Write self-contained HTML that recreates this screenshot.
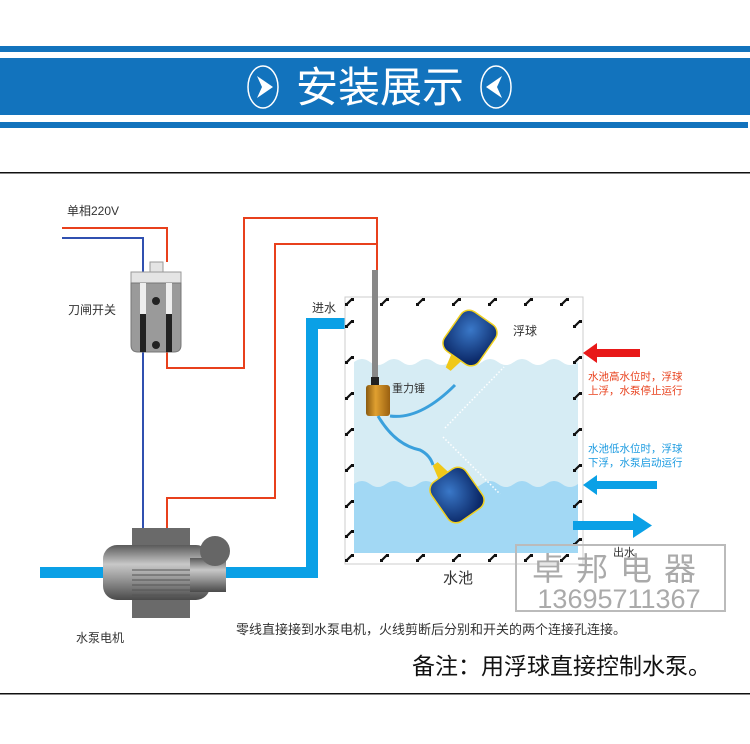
<!DOCTYPE html>
<html><head><meta charset="utf-8"><style>
body{margin:0;background:#fff;}
svg{display:block;font-family:"Liberation Sans","Noto Sans CJK SC",sans-serif;}
</style></head><body>
<svg width="750" height="744" viewBox="0 0 750 744" xmlns="http://www.w3.org/2000/svg">
<defs>
<linearGradient id="cyl" x1="0" y1="0" x2="0" y2="1"><stop offset="0" stop-color="#5a5a5a"/><stop offset="0.35" stop-color="#c8c8c8"/><stop offset="0.6" stop-color="#9a9a9a"/><stop offset="1" stop-color="#4a4a4a"/></linearGradient>
<linearGradient id="wt" x1="0" y1="0" x2="1" y2="0"><stop offset="0" stop-color="#8a5a10"/><stop offset="0.4" stop-color="#e0a030"/><stop offset="1" stop-color="#9a6010"/></linearGradient>
<radialGradient id="fb" cx="0.4" cy="0.35" r="0.7"><stop offset="0" stop-color="#3a78c8"/><stop offset="1" stop-color="#0c2a6a"/></radialGradient>
<g id="mk"><path d="M0 7 L6 1" stroke="#111" stroke-width="2.2"/><rect x="-1" y="5" width="3" height="3" fill="#111"/><rect x="5" y="0" width="3" height="3" fill="#111"/></g>
</defs>
<!-- header -->
<rect x="0" y="46" width="750" height="6" fill="#1273bd"/>
<rect x="0" y="58" width="750" height="57" fill="#1273bd"/>
<rect x="0" y="122" width="748" height="6" fill="#1273bd"/>
<ellipse cx="263" cy="87" rx="15" ry="21" fill="none" stroke="#fff" stroke-width="1.5"/>
<path d="M257 76 L273 87 L257 98 L262 87z" fill="#fff"/>
<ellipse cx="496" cy="87" rx="15" ry="21" fill="none" stroke="#fff" stroke-width="1.5"/>
<path d="M502 76 L486 87 L502 98 L497 87z" fill="#fff"/>
<text x="380" y="102" font-size="42" fill="#fff" text-anchor="middle">安装展示</text>
<rect x="0" y="172" width="750" height="1.5" fill="#111"/>
<rect x="0" y="693" width="750" height="1.5" fill="#111"/>

<!-- wires -->
<text x="67" y="215" font-size="12" fill="#333">单相220V</text>
<polyline points="62,228 167,228 167,262" fill="none" stroke="#e8401c" stroke-width="2"/>
<polyline points="62,238 143,238 143,528" fill="none" stroke="#3050b0" stroke-width="2"/>
<polyline points="167,352 167,368 244,368 244,218 377,218 377,270" fill="none" stroke="#e8401c" stroke-width="2"/>
<polyline points="167,528 167,498 275,498 275,244 377,244" fill="none" stroke="#e8401c" stroke-width="2"/>

<!-- switch -->
<rect x="150" y="262" width="13" height="10" fill="#e4e4e4" stroke="#999"/>
<rect x="131" y="272" width="50" height="11" fill="#e4e4e4" stroke="#999"/>
<path d="M131 283 h50 v62 q0 7 -7 7 h-36 q-7 0 -7 -7z" fill="#9a9a9a" stroke="#777"/>
<rect x="140" y="314" width="6" height="38" fill="#222"/>
<rect x="166" y="314" width="6" height="38" fill="#222"/>
<rect x="140" y="283" width="6" height="31" fill="#eee"/>
<rect x="166" y="283" width="6" height="31" fill="#eee"/>
<circle cx="156" cy="301" r="4" fill="#222"/>
<circle cx="156" cy="345" r="4" fill="#222"/>
<text x="68" y="314" font-size="12" fill="#333">刀闸开关</text>

<!-- pipes -->
<rect x="40" y="567" width="70" height="11" fill="#0aa0e6"/>
<rect x="222" y="567" width="96" height="11" fill="#0aa0e6"/>
<rect x="306" y="318" width="12" height="260" fill="#0aa0e6"/>
<rect x="306" y="318" width="44" height="11" fill="#0aa0e6"/>
<path d="M348 312 L367 323.5 L348 335z" fill="#0aa0e6"/>
<text x="312" y="312" font-size="12" fill="#333">进水</text>

<!-- tank -->
<rect x="345" y="297" width="238" height="267" fill="#fff" stroke="#ccc"/>
<rect x="354" y="307" width="219" height="246" fill="#fff"/>
<path d="M354 362 q8 -6 16 0 t16 0 t16 0 t16 0 t16 0 t16 0 t16 0 t16 0 t16 0 t16 0 t16 0 t16 0 t16 0 t16 0 V553 H354z" fill="#d6ecf4"/>
<path d="M354 484 q8 -6 16 0 t16 0 t16 0 t16 0 t16 0 t16 0 t16 0 t16 0 t16 0 t16 0 t16 0 t16 0 t16 0 t16 0 V553 H354z" fill="#a2d8f4"/>
<!-- border marks -->
<use href="#mk" x="346" y="298"/><use href="#mk" x="381" y="298"/><use href="#mk" x="417" y="298"/><use href="#mk" x="453" y="298"/><use href="#mk" x="489" y="298"/><use href="#mk" x="525" y="298"/><use href="#mk" x="561" y="298"/>
<use href="#mk" x="346" y="554"/><use href="#mk" x="381" y="554"/><use href="#mk" x="417" y="554"/><use href="#mk" x="453" y="554"/><use href="#mk" x="489" y="554"/><use href="#mk" x="525" y="554"/><use href="#mk" x="561" y="554"/>
<use href="#mk" x="346" y="320"/><use href="#mk" x="346" y="356"/><use href="#mk" x="346" y="392"/><use href="#mk" x="346" y="428"/><use href="#mk" x="346" y="464"/><use href="#mk" x="346" y="500"/><use href="#mk" x="346" y="530"/>
<use href="#mk" x="574" y="320"/><use href="#mk" x="574" y="356"/><use href="#mk" x="574" y="392"/><use href="#mk" x="574" y="428"/><use href="#mk" x="574" y="464"/><use href="#mk" x="574" y="500"/><use href="#mk" x="574" y="538"/>
<rect x="372" y="270" width="6" height="108" fill="#888"/>
<rect x="371" y="377" width="8" height="8" fill="#222"/>
<rect x="366" y="385" width="24" height="31" rx="3" fill="url(#wt)"/>
<text x="392" y="392" font-size="11" fill="#333">重力锤</text>
<path d="M390 416 Q420 420 455 385" fill="none" stroke="#3aa0dc" stroke-width="3"/>
<path d="M378 416 Q395 445 420 450 Q430 455 433 465" fill="none" stroke="#3aa0dc" stroke-width="3"/>
<g transform="translate(470,338) rotate(35)"><rect x="-21" y="-24" width="42" height="48" rx="10" fill="url(#fb)" stroke="#f0d020" stroke-width="1.5"/><path d="M-6 24 h12 l-3 14 h-6z" fill="#f0c818"/></g>
<g transform="translate(457,495) rotate(-35)"><rect x="-21" y="-24" width="42" height="48" rx="10" fill="url(#fb)" stroke="#f0d020" stroke-width="1.5"/><path d="M-6 -24 h12 l-3 -14 h-6z" fill="#f0c818"/></g>
<path d="M445 428 L504 367" stroke="#fff" stroke-width="1.5" stroke-dasharray="1.5,2" fill="none"/>
<path d="M443 437 L500 494" stroke="#fff" stroke-width="1.5" stroke-dasharray="1.5,2" fill="none"/>
<text x="513" y="335" font-size="12" fill="#333">浮球</text>

<!-- side arrows -->
<rect x="595" y="349" width="45" height="8" fill="#e81818"/>
<path d="M597 343 L583 353 L597 363z" fill="#e81818"/>
<text x="588" y="380" font-size="10.5" fill="#e8401c">水池高水位时，浮球</text>
<text x="588" y="394" font-size="10.5" fill="#e8401c">上浮，水泵停止运行</text>
<text x="588" y="452" font-size="10.5" fill="#1a9ae0">水池低水位时，浮球</text>
<text x="588" y="466" font-size="10.5" fill="#1a9ae0">下浮，水泵启动运行</text>
<rect x="595" y="481" width="62" height="8" fill="#0aa0e6"/>
<path d="M597 475 L583 485 L597 495z" fill="#0aa0e6"/>
<rect x="573" y="521" width="62" height="9" fill="#0aa0e6"/>
<path d="M633 513 L652 525.5 L633 538z" fill="#0aa0e6"/>
<text x="613" y="556" font-size="11" fill="#333">出水</text>
<text x="443" y="583" font-size="15" fill="#333">水池</text>

<!-- watermark -->
<rect x="516" y="545" width="209" height="66" fill="none" stroke="#bbb" stroke-width="2"/>
<text x="620" y="580" font-size="32" fill="#aaa" text-anchor="middle" letter-spacing="12">卓邦电器</text>
<text x="619" y="608" font-size="27" fill="#aaa" text-anchor="middle">13695711367</text>

<!-- pump -->
<rect x="132" y="528" width="58" height="20" fill="#6a6a6a"/>
<rect x="103" y="545" width="107" height="55" rx="14" fill="url(#cyl)"/>
<rect x="190" y="558" width="36" height="34" fill="url(#cyl)"/>
<circle cx="215" cy="551" r="15" fill="#666"/>
<g stroke="#555" stroke-width="1"><line x1="132" y1="570" x2="190" y2="570"/><line x1="132" y1="575" x2="190" y2="575"/><line x1="132" y1="580" x2="190" y2="580"/><line x1="132" y1="585" x2="190" y2="585"/><line x1="132" y1="590" x2="190" y2="590"/><line x1="132" y1="595" x2="190" y2="595"/></g>
<rect x="132" y="600" width="58" height="18" fill="#6a6a6a"/>
<text x="76" y="642" font-size="12" fill="#333">水泵电机</text>
<text x="236" y="634" font-size="13" fill="#333">零线直接接到水泵电机，火线剪断后分别和开关的两个连接孔连接。</text>
<text x="412" y="674" font-size="23" fill="#111">备注：用浮球直接控制水泵。</text>
</svg>
</body></html>
